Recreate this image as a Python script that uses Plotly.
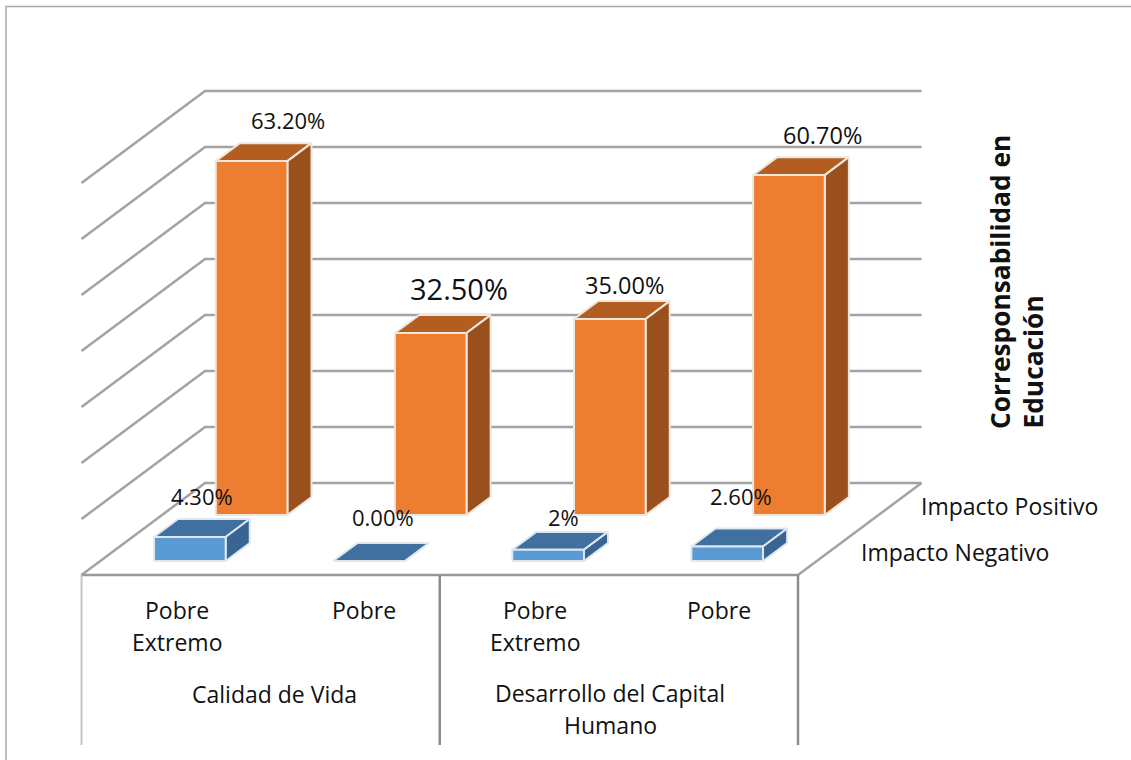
import plotly.graph_objects as go

# ---- data ----
groups = ["Calidad de Vida", "Desarrollo del Capital<br>Humano"]
categories = ["Pobre<br>Extremo", "Pobre", "Pobre<br>Extremo", "Pobre"]
series_names = ["Impacto Negativo", "Impacto Positivo"]
impacto_negativo = [4.3, 0.0, 2.0, 2.6]
impacto_positivo = [63.2, 32.5, 35.0, 60.7]
labels_negativo = ["4.30%", "0.00%", "2%", "2.60%"]
labels_positivo = ["63.20%", "32.50%", "35.00%", "60.70%"]
value_ticks = [0, 10, 20, 30, 40, 50, 60, 70]
axis_title = ["Corresponsabilidad en", "Educación"]

# ---- oblique projection of the 3D Excel-style box ----
X0, Y0 = 81.5, 575.0        # front-left floor corner
WIDTH = 716.5               # floor width in category direction
DX, DY = 123.5, -92.0       # full depth vector
PX_PER_PCT = 5.6
N = len(categories)
GRID = "#a3a3a3"
FONT = "Open Sans, sans-serif"


def proj(cat, depth, val):
    """cat in category units (0..N), depth in 0..1, val in percent."""
    return (X0 + cat / N * WIDTH + depth * DX,
            Y0 + depth * DY - val * PX_PER_PCT)


fig = go.Figure()


def line(points, color=GRID, width=2.5):
    fig.add_trace(go.Scatter(x=[p[0] for p in points], y=[p[1] for p in points],
                             mode="lines", line=dict(color=color, width=width),
                             hoverinfo="skip", showlegend=False))


def poly(points, fill, edge, width=2):
    pts = points + [points[0]]
    fig.add_trace(go.Scatter(x=[p[0] for p in pts], y=[p[1] for p in pts],
                             mode="lines", fill="toself", fillcolor=fill,
                             line=dict(color=edge, width=width),
                             hoverinfo="skip", showlegend=False))


# page frame
line([(6, 760), (6, 6.5), (1131, 6.5)], "#a8a8a8", 1.5)

# walls and floor
for v in value_ticks[1:]:
    line([proj(0, 0, v), proj(0, 1, v), proj(N, 1, v)])
line([proj(0, 0, 0), proj(0, 1, 0), proj(N, 1, 0), proj(N, 0, 0)], "#a3a3a3", 2.5)

# multi-level category table
TABLE_BOTTOM = 745
line([proj(0, 0, 0), proj(N, 0, 0)], "#999999", 2.5)
line([proj(0, 0, 0), (X0, TABLE_BOTTOM)], "#c4c4c4", 2)
line([proj(2, 0, 0), (X0 + WIDTH / 2, TABLE_BOTTOM)], "#8c8c8c", 2.5)
line([proj(N, 0, 0), (X0 + WIDTH, TABLE_BOTTOM)], "#8c8c8c", 2.5)

BAR_FRAC = 0.4              # share of category width taken by the bar face
BAR_DEPTH = 0.195           # share of full depth taken by the bar


def bar(i, row_depth, value, front, top, side, edge):
    c0 = i + row_depth[0]
    c1 = c0 + BAR_FRAC
    d0 = row_depth[1]
    d1 = d0 + BAR_DEPTH
    poly([proj(c0, d1, value), proj(c1, d1, value), proj(c1, d0, value), proj(c0, d0, value)], top, edge)
    if value > 0:
        poly([proj(c1, d0, 0), proj(c1, d1, 0), proj(c1, d1, value), proj(c1, d0, value)], side, edge)
        poly([proj(c0, d0, 0), proj(c1, d0, 0), proj(c1, d0, value), proj(c0, d0, value)], front, edge)


ROW_POS = (0.30, 0.652)     # (category offset, depth) of rear row
ROW_NEG = (0.30, 0.152)     # (category offset, depth) of front row

for i, v in enumerate(impacto_positivo):
    bar(i, ROW_POS, v, "#ED7D31", "#B35E20", "#99501C", "#efe6dc")
for i, v in enumerate(impacto_negativo):
    bar(i, ROW_NEG, v, "#5B9BD5", "#40709F", "#386592", "#dfe8f0")


def text(x, y, s, size=23, pitch=31.5):
    for k, part in enumerate(s.split("<br>")):
        fig.add_annotation(x=x, y=y + k * pitch, text=part, showarrow=False, xref="x", yref="y",
                           font=dict(family=FONT, size=size, color="#111111"), align="center")


# data labels
pos_xy = [(288, 120), (459, 288), (624, 285), (822, 135)]
pos_sz = [22, 29, 23.5, 23.5]
neg_xy = [(202, 496), (383, 517), (563, 517), (741, 496)]
for (x, y), s, z in zip(pos_xy, labels_positivo, pos_sz):
    text(x, y, s, z)
for (x, y), s in zip(neg_xy, labels_negativo):
    text(x, y, s, 22)

# category labels
cat_x = [177, 364, 535, 719]
cat_y = [610, 610, 610, 610]
for x, y, s in zip(cat_x, cat_y, categories):
    text(x, y, s)
text(274, 694, groups[0])
text(610, 693, groups[1])

# series (depth axis) labels
text(1009, 506, series_names[1])
text(955, 552, series_names[0])

# value axis title
for x, s in zip([1000, 1032], axis_title):
    fig.add_annotation(x=x, y=431, text="<b>%s</b>" % s, textangle=-90, showarrow=False,
                       xanchor="center", yanchor="bottom",
                       font=dict(family=FONT, size=26.3, color="#111111"))

fig.update_layout(
    width=1131, height=760, margin=dict(l=0, r=0, t=0, b=0),
    paper_bgcolor="white", plot_bgcolor="white", showlegend=False,
    xaxis=dict(range=[0, 1131], visible=False, fixedrange=True),
    yaxis=dict(range=[760, 0], visible=False, fixedrange=True),
)
fig.write_html("out.html", config={"displayModeBar": False},
               post_script="document.body.style.margin='0';document.body.style.overflow='hidden';")
